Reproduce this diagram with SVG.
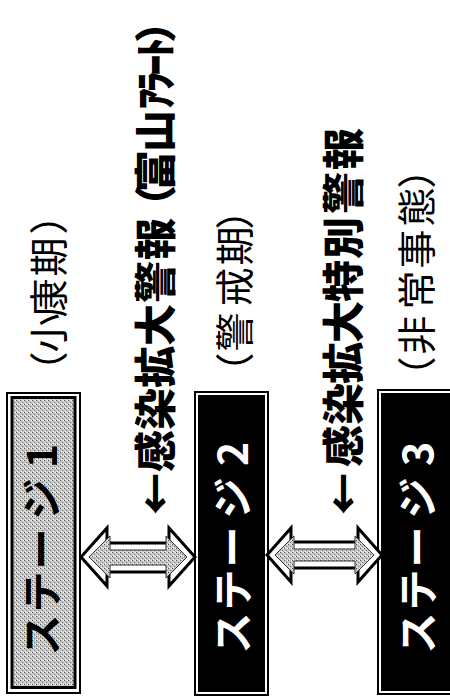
<svg xmlns="http://www.w3.org/2000/svg" width="450" height="698" viewBox="0 0 450 698">
<style>
text{font-family:"Noto Sans CJK JP","Noto Sans",sans-serif;dominant-baseline:central;text-anchor:middle}
.lab{font-size:39px;font-weight:400;fill:#000}
.big{font-size:42px;font-weight:900;fill:#000}
.stg{font-size:41px;font-weight:700}
.arrow-out{fill:#fff;stroke:#000;stroke-width:3;stroke-linejoin:miter}
.arrow-in{fill:url(#dots);stroke:#333;stroke-width:1}
</style>
<defs>
<pattern id="dots" width="4" height="4" patternUnits="userSpaceOnUse">
<rect width="4" height="4" fill="#c6c6c6"/>
<rect x="0" y="0" width="1" height="1" fill="#555"/>
<rect x="2" y="2" width="1" height="1" fill="#777"/>
<rect x="3" y="0" width="1" height="1" fill="#fff"/>
<rect x="1" y="3" width="1" height="1" fill="#fff"/>
</pattern>
</defs>
<rect width="450" height="698" fill="#fff"/>

<g id="stage1">
<rect x="7" y="393" width="73" height="300" fill="#fff" stroke="#000" stroke-width="2"/>
<rect x="12" y="397.5" width="63" height="290" fill="url(#dots)" stroke="#000" stroke-width="3"/>
<text class="stg" fill="#000" transform="translate(39,0) rotate(-90)" x="-635 -592 -549 -499 -456">ステージ1</text>
</g>

<g id="stage2">
<rect x="195" y="392" width="73" height="303" fill="#fff" stroke="#000" stroke-width="2"/>
<rect x="198" y="395" width="67" height="297" fill="#000"/>
<text class="stg" fill="#fff" transform="translate(230,0) rotate(-90)" x="-633 -590 -547 -498 -454">ステージ2</text>
</g>

<g id="stage3">
<rect x="378" y="390" width="80" height="304" fill="#fff" stroke="#000" stroke-width="2"/>
<rect x="381" y="393" width="77" height="298" fill="#000"/>
<text class="stg" fill="#fff" transform="translate(415,0) rotate(-90)" x="-633 -590 -547 -498 -454">ステージ3</text>
</g>

<g id="label-shokoki">
<text class="lab" transform="translate(46,0) rotate(-90)" x="-371 -333 -298 -257 -215">（小康期）</text>
</g>

<g id="label-alert">
<text class="big" transform="translate(152,0) rotate(-90)" x="-494 -451 -409 -367 -325 -282 -239 -206 -171 -131 -99 -82 -65 -48 -22">←感染拡大警報（富山ｱﾗｰﾄ）</text>
</g>

<g id="label-keikaiki">
<text class="lab" transform="translate(232,0) rotate(-90)" x="-372 -332 -287 -246 -210">（警戒期）</text>
</g>

<g id="label-special">
<text class="big" transform="translate(340,0) rotate(-90)" x="-494 -446 -404 -363 -322 -281 -238 -193 -149">←感染拡大特別警報</text>
</g>

<g id="label-hijo">
<text class="lab" transform="translate(414,0) rotate(-90)" x="-376 -335 -290 -249 -207 -169">（非常事態）</text>
</g>

<g id="connectors">
<polygon class="arrow-out" points="81,557 107,528 107,543 169,543 169,528 195,557 169,586 169,572 107,572 107,586"/>
<polygon class="arrow-in" points="89,557 110,536 110,550 166,550 166,536 187,557 166,578 166,565 110,565 110,578"/>
<polygon class="arrow-out" points="267,555 291,528 291,542 358,542 358,528 382,555 358,582 358,568 291,568 291,582"/>
<polygon class="arrow-in" points="275,555 294,536 294,549 355,549 355,536 374,555 355,574 355,561 294,561 294,574"/>
</g>
</svg>
